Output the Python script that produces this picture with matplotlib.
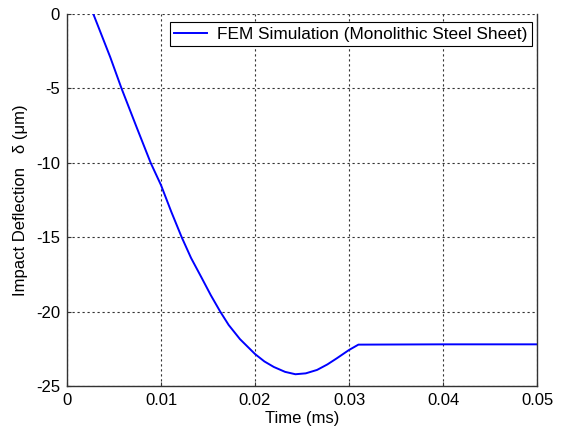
import matplotlib
matplotlib.use("Agg")
import matplotlib.pyplot as plt

# Values (time in ms, deflection in um)
TIME_MS = [0.0028, 0.0046, 0.0058, 0.0074, 0.0089, 0.0100, 0.0111, 0.0122,
           0.0132, 0.0143, 0.0153, 0.0163, 0.0172, 0.0184, 0.0200, 0.0210,
           0.0220, 0.0232, 0.0243, 0.0254, 0.0266, 0.0277, 0.0287, 0.0300,
           0.0310, 0.0400, 0.0500]
DEFLECTION_UM = [0.0, -2.9, -5.0, -7.6, -10.0, -11.5, -13.3, -15.0,
                 -16.4, -17.7, -18.9, -20.0, -20.9, -21.85, -22.85, -23.35,
                 -23.72, -24.05, -24.21, -24.15, -23.92, -23.55, -23.14, -22.58,
                 -22.22, -22.2, -22.2]
SERIES_LABEL = "FEM Simulation (Monolithic Steel Sheet)"
X_TICKS = [0, 0.01, 0.02, 0.03, 0.04, 0.05]
X_TICK_LABELS = ["0", "0.01", "0.02", "0.03", "0.04", "0.05"]
Y_TICKS = [0, -5, -10, -15, -20, -25]

plt.rcParams["font.family"] = ["Liberation Sans", "DejaVu Sans"]
plt.rcParams["axes.unicode_minus"] = False

fig = plt.figure(figsize=(5.65, 4.37), dpi=100)
ax = fig.add_axes([67 / 565, 51 / 437, 470 / 565, 372 / 437])

ax.plot(TIME_MS, DEFLECTION_UM, color="#0000ff", linewidth=1.4, label=SERIES_LABEL)

ax.set_xlim(0, 0.05)
ax.set_ylim(-25, 0)
ax.set_xticks(X_TICKS)
ax.set_xticklabels(X_TICK_LABELS)
ax.set_yticks(Y_TICKS)
ax.tick_params(direction="in", length=3, labelsize=12, color="#333333", pad=5)
ax.grid(True, color="#333333", linestyle=(0, (2, 2.5)), linewidth=0.8)
ax.spines["top"].set_visible(False)
for side in ("left", "right", "bottom"):
    ax.spines[side].set_color("#333333")
    ax.spines[side].set_linewidth(1.0)

ax.set_xlabel("Time (ms)", fontsize=12, labelpad=2)
ax.set_ylabel("Impact Deflection   δ (μm)", fontsize=12, labelpad=6)

leg = ax.legend(loc="upper right", fontsize=12.4, fancybox=False, framealpha=1,
                edgecolor="black", handlelength=1.9, handletextpad=0.6,
                borderpad=0.25, borderaxespad=0, bbox_to_anchor=(0.989, 0.978))
leg.get_frame().set_linewidth(0.8)

fig.savefig("out.png", dpi=100)
